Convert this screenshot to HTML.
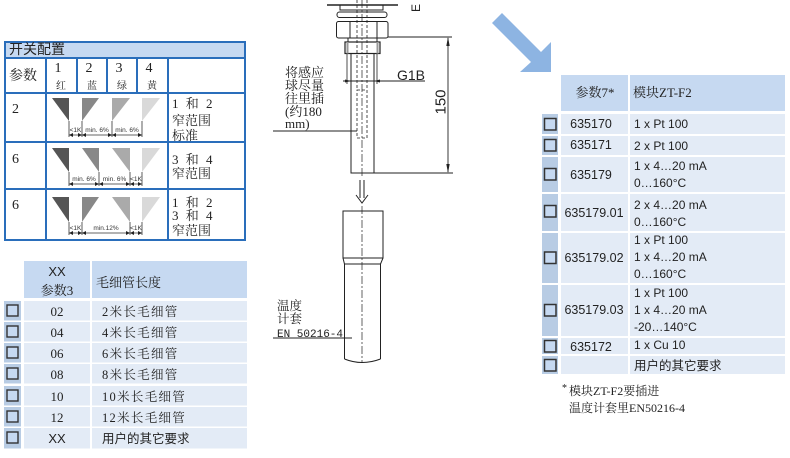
<!DOCTYPE html>
<html><head><meta charset="utf-8"><style>
html,body{margin:0;padding:0;background:#fff;}
svg{display:block;}
.sf{font-family:"Liberation Serif","Noto Serif CJK SC",serif;}
.ss{font-family:"Liberation Sans","Noto Sans CJK SC",sans-serif;}
.mo{font-family:"Liberation Mono","Noto Sans CJK SC",monospace;}
</style></head><body>
<svg width="790" height="458" viewBox="0 0 790 458" xmlns="http://www.w3.org/2000/svg">
<rect width="790" height="458" fill="#fff"/>

<!-- ===== Table 1 ===== -->
<rect x="4" y="41" width="242" height="17" fill="#c6d9f1"/>
<g stroke="#2a6ebb" stroke-width="2" fill="none">
<rect x="5" y="42" width="240" height="198"/>
<line x1="5" y1="58" x2="245" y2="58"/>
<line x1="5" y1="93" x2="245" y2="93"/>
<line x1="5" y1="142" x2="245" y2="142"/>
<line x1="5" y1="189" x2="245" y2="189"/>
<line x1="46" y1="58" x2="46" y2="240"/>
<line x1="168" y1="58" x2="168" y2="240"/>
<line x1="77" y1="58" x2="77" y2="93"/>
<line x1="107" y1="58" x2="107" y2="93"/>
<line x1="137" y1="58" x2="137" y2="93"/>
</g>
<g fill="#222">
<text x="9" y="54" class="ss" font-size="14">开关配置</text>
<text x="9" y="80" class="sf" font-size="14">参数</text>
<g class="sf" font-size="14" text-anchor="middle">
<text x="58" y="72">1</text><text x="89" y="72">2</text><text x="119" y="72">3</text><text x="149" y="72">4</text>
</g>
<g class="sf" font-size="10" text-anchor="middle">
<text x="61" y="89">红</text><text x="92" y="89">蓝</text><text x="122" y="89">绿</text><text x="152" y="89">黄</text>
</g>
<g class="sf" font-size="14">
<text x="12" y="113">2</text>
<text x="12" y="163">6</text>
<text x="12" y="209">6</text>
</g>
<g class="sf" font-size="13">
<text x="172" y="108" letter-spacing="2">1 和 2</text>
<text x="172" y="125">窄范围</text>
<text x="172" y="140">标准</text>
<text x="172" y="164" letter-spacing="2">3 和 4</text>
<text x="172" y="178">窄范围</text>
<text x="172" y="207" letter-spacing="2">1 和 2</text>
<text x="172" y="220" letter-spacing="2">3 和 4</text>
<text x="172" y="235">窄范围</text>
</g>
</g>

<!-- triangles row1 -->
<polygon points="52,98 69,98 69,121" fill="#555"/>
<polygon points="82,98 99,98 82,121" fill="#888"/>
<polygon points="112,98 130,98 112,121" fill="#aaa"/>
<polygon points="142,98 160,98 142,121" fill="#d9d9d9"/>
<!-- row2 -->
<polygon points="52,148 69,148 69,172" fill="#555"/>
<polygon points="82,148 99,148 99,172" fill="#888"/>
<polygon points="112,148 130,148 130,172" fill="#aaa"/>
<polygon points="142,148 160,148 142,172" fill="#d9d9d9"/>
<!-- row3 -->
<polygon points="52,197 69,197 69,222" fill="#555"/>
<polygon points="82,197 99,197 82,222" fill="#888"/>
<polygon points="112,197 130,197 130,222" fill="#aaa"/>
<polygon points="142,197 160,197 142,222" fill="#d9d9d9"/>

<g stroke="#333" stroke-width="0.8">
<line x1="69" y1="121" x2="69" y2="137"/><line x1="82" y1="121" x2="82" y2="137"/><line x1="112" y1="121" x2="112" y2="137"/><line x1="142" y1="121" x2="142" y2="137"/>
<line x1="69" y1="135" x2="142" y2="135"/>
<line x1="69" y1="172" x2="69" y2="186"/><line x1="99" y1="172" x2="99" y2="186"/><line x1="130" y1="172" x2="130" y2="186"/><line x1="142" y1="172" x2="142" y2="186"/>
<line x1="69" y1="184" x2="142" y2="184"/>
<line x1="69" y1="222" x2="69" y2="235"/><line x1="82" y1="222" x2="82" y2="235"/><line x1="130" y1="222" x2="130" y2="235"/><line x1="142" y1="222" x2="142" y2="235"/>
<line x1="69" y1="233" x2="142" y2="233"/>
</g>
<g fill="#222">
<polygon points="69,135 73,133 73,137"/><polygon points="82,135 78,133 78,137"/>
<polygon points="82,135 86,133 86,137"/><polygon points="112,135 108,133 108,137"/>
<polygon points="112,135 116,133 116,137"/><polygon points="142,135 138,133 138,137"/>
<polygon points="69,184 73,182 73,186"/><polygon points="99,184 95,182 95,186"/>
<polygon points="99,184 103,182 103,186"/><polygon points="130,184 126,182 126,186"/>
<polygon points="130,184 134,182 134,186"/><polygon points="142,184 138,182 138,186"/>
<polygon points="69,233 73,231 73,235"/><polygon points="82,233 78,231 78,235"/>
<polygon points="82,233 86,231 86,235"/><polygon points="130,233 126,231 126,235"/>
<polygon points="130,233 134,231 134,235"/><polygon points="142,233 138,231 138,235"/>
</g>
<g class="ss" font-size="6.5" fill="#333" text-anchor="middle">
<text x="75.5" y="132">&lt;1K</text><text x="97" y="132">min. 6%</text><text x="127" y="132">min. 6%</text>
<text x="84" y="181">min. 6%</text><text x="114.5" y="181">min. 6%</text><text x="136" y="181">&lt;1K</text>
<text x="75.5" y="230">&lt;1K</text><text x="106" y="230">min.12%</text><text x="136" y="230">&lt;1K</text>
</g>

<!-- ===== Table 2 ===== -->
<rect x="24" y="261" width="66" height="37" fill="#c6d9f1"/>
<rect x="92" y="261" width="155" height="37" fill="#c6d9f1"/>
<g fill="#222">
<text x="57" y="276" class="ss" font-size="13" text-anchor="middle">XX</text>
<text x="57" y="295" class="sf" font-size="13" text-anchor="middle">参数3</text>
<text x="96" y="287" class="sf" font-size="13">毛细管长度</text>
</g>
<g>
<rect x="4" y="301" width="17" height="19.5" fill="#b8cce4"/><rect x="24" y="301" width="66" height="19.5" fill="#e3ebf6"/><rect x="92" y="301" width="155" height="19.5" fill="#e3ebf6"/>
<rect x="4" y="322" width="17" height="19.5" fill="#b8cce4"/><rect x="24" y="322" width="66" height="19.5" fill="#e3ebf6"/><rect x="92" y="322" width="155" height="19.5" fill="#e3ebf6"/>
<rect x="4" y="343" width="17" height="19.5" fill="#b8cce4"/><rect x="24" y="343" width="66" height="19.5" fill="#e3ebf6"/><rect x="92" y="343" width="155" height="19.5" fill="#e3ebf6"/>
<rect x="4" y="364" width="17" height="19.5" fill="#b8cce4"/><rect x="24" y="364" width="66" height="19.5" fill="#e3ebf6"/><rect x="92" y="364" width="155" height="19.5" fill="#e3ebf6"/>
<rect x="4" y="386" width="17" height="19.5" fill="#b8cce4"/><rect x="24" y="386" width="66" height="19.5" fill="#e3ebf6"/><rect x="92" y="386" width="155" height="19.5" fill="#e3ebf6"/>
<rect x="4" y="407" width="17" height="19.5" fill="#b8cce4"/><rect x="24" y="407" width="66" height="19.5" fill="#e3ebf6"/><rect x="92" y="407" width="155" height="19.5" fill="#e3ebf6"/>
<rect x="4" y="428" width="17" height="20.5" fill="#b8cce4"/><rect x="24" y="428" width="66" height="20.5" fill="#e3ebf6"/><rect x="92" y="428" width="155" height="20.5" fill="#e3ebf6"/>
</g>
<g fill="#c6d9f1" stroke="#333" stroke-width="1.4">
<rect x="7" y="305" width="11" height="11"/>
<rect x="7" y="326" width="11" height="11"/>
<rect x="7" y="347" width="11" height="11"/>
<rect x="7" y="368" width="11" height="11"/>
<rect x="7" y="390" width="11" height="11"/>
<rect x="7" y="411" width="11" height="11"/>
<rect x="7" y="432" width="11" height="11"/>
</g>
<g fill="#222" font-size="13">
<g class="sf" text-anchor="middle">
<text x="57" y="316">02</text><text x="57" y="337">04</text><text x="57" y="358">06</text><text x="57" y="379">08</text><text x="57" y="401">10</text><text x="57" y="422">12</text>
</g>
<text x="57" y="443" class="ss" text-anchor="middle">XX</text>
<g class="sf" font-size="12.5" letter-spacing="1.3">
<text x="102" y="316">2米长毛细管</text>
<text x="102" y="337">4米长毛细管</text>
<text x="102" y="358">6米长毛细管</text>
<text x="102" y="379">8米长毛细管</text>
<text x="102" y="401">10米长毛细管</text>
<text x="102" y="422">12米长毛细管</text>
</g>
<text x="102" y="443" class="ss" font-size="12.5">用户的其它要求</text>
</g>

<!-- ===== Drawing (upper) ===== -->
<g stroke="#222" fill="none" stroke-width="1">
<line x1="327" y1="5" x2="398" y2="5" stroke-width="1.6"/>
<polyline points="340,5 340,10 383,10 383,5"/>
<rect x="337" y="12" width="50" height="5.5" rx="2.5"/>
<rect x="336.5" y="21.5" width="51.5" height="16.5" rx="2"/>
<line x1="350" y1="21.5" x2="350" y2="38"/>
<line x1="377" y1="21.5" x2="377" y2="38"/>
<rect x="348" y="38" width="29" height="4"/>
<rect x="345" y="42" width="35" height="11.5" stroke-width="1.2"/>
<line x1="347.5" y1="42" x2="347.5" y2="53.5" stroke="#999" stroke-width="2"/>
<line x1="377.5" y1="42" x2="377.5" y2="53.5" stroke="#999" stroke-width="2"/>
<polyline points="351,53.5 351,173 374,173 374,53.5"/>
<line x1="347" y1="54" x2="347" y2="84" stroke-width="0.8"/>
<line x1="377" y1="54" x2="377" y2="84" stroke-width="0.8"/>
<line x1="343" y1="81" x2="425" y2="81" stroke-width="0.9"/>
<line x1="357" y1="0" x2="357" y2="90" stroke-dasharray="3,2" stroke-width="0.8"/>
<line x1="367" y1="0" x2="367" y2="90" stroke-dasharray="3,2" stroke-width="0.8"/>
<rect x="357" y="90" width="10" height="48" stroke-dasharray="3,2" stroke-width="0.8"/>
<line x1="362" y1="0" x2="362" y2="178" stroke-dasharray="8,2,2,2" stroke-width="0.7"/>
<line x1="388" y1="37" x2="452" y2="37" stroke-width="0.9"/>
<line x1="374" y1="173" x2="453" y2="173" stroke-width="0.9"/>
<line x1="448" y1="38" x2="448" y2="172" stroke-width="0.9"/>
<line x1="273" y1="131" x2="357" y2="131" stroke-width="0.9"/>
</g>
<g fill="#222">
<polygon points="351,81 345,79.5 345,82.5"/>
<polygon points="374,81 380,79.5 380,82.5"/>
<polygon points="448,37 446.3,46 449.7,46"/>
<polygon points="448,173 446.3,164 449.7,164"/>
</g>
<text x="420" y="12" transform="rotate(-90 420 12)" class="ss" font-size="12" fill="#222">E</text>
<text x="397" y="80" class="ss" font-size="14" fill="#222">G1B</text>
<text x="445.5" y="102" transform="rotate(-90 445.5 102)" class="ss" font-size="15" fill="#222" text-anchor="middle">150</text>
<g class="sf" font-size="13" fill="#222">
<text x="285" y="77">将感应</text>
<text x="285" y="90">球尽量</text>
<text x="285" y="103">往里插</text>
<text x="285" y="116">(约180</text>
<text x="285" y="128">mm)</text>
</g>

<!-- down arrow -->
<g stroke="#222" stroke-width="1" fill="none">
<line x1="360" y1="180" x2="360" y2="198"/>
<line x1="364" y1="180" x2="364" y2="198"/>
<polyline points="356,195 362,203 368,195"/>
</g>

<!-- ===== Thermowell (lower) ===== -->
<g stroke="#222" fill="none" stroke-width="1">
<rect x="343" y="211" width="40" height="47"/>
<line x1="343" y1="258" x2="344.5" y2="264"/>
<line x1="383" y1="258" x2="380.5" y2="264"/>
<line x1="344.5" y1="264" x2="380.5" y2="264"/>
<line x1="344.5" y1="264" x2="344.5" y2="359"/>
<line x1="380.5" y1="264" x2="380.5" y2="359"/>
<path d="M344.5 359 Q362 366 380.5 359"/>
<line x1="362" y1="206" x2="362" y2="362" stroke-dasharray="8,2,2,2" stroke-width="0.7"/>
<line x1="273" y1="338" x2="352" y2="338" stroke-width="0.9"/>
</g>
<g fill="#222">
<text x="277" y="310" class="sf" font-size="12.5">温度</text>
<text x="277" y="323" class="sf" font-size="12.5">计套</text>
<text x="277" y="337" class="mo" font-size="11">EN 50216-4</text>
</g>

<!-- ===== Blue arrow ===== -->
<polygon points="502,13 541,52 551,42 551,72 520,72 531,62 492,23" fill="#8db4e2"/>

<!-- ===== Right table ===== -->
<rect x="561" y="75" width="67" height="36" fill="#c6d9f1"/>
<rect x="630" y="75" width="155" height="36" fill="#c6d9f1"/>
<g fill="#222" class="sf" font-size="13">
<text x="595" y="97" text-anchor="middle">参数7*</text>
<text x="633" y="97">模块ZT-F2</text>
</g>
<g>
<rect x="542" y="114" width="16" height="20" fill="#b8cce4"/><rect x="561" y="114" width="67" height="20" fill="#e3ebf6"/><rect x="630" y="114" width="155" height="20" fill="#e3ebf6"/>
<rect x="542" y="136" width="16" height="19" fill="#b8cce4"/><rect x="561" y="136" width="67" height="19" fill="#e3ebf6"/><rect x="630" y="136" width="155" height="19" fill="#e3ebf6"/>
<rect x="542" y="157" width="16" height="35" fill="#b8cce4"/><rect x="561" y="157" width="67" height="35" fill="#e3ebf6"/><rect x="630" y="157" width="155" height="35" fill="#e3ebf6"/>
<rect x="542" y="194" width="16" height="37" fill="#b8cce4"/><rect x="561" y="194" width="67" height="37" fill="#e3ebf6"/><rect x="630" y="194" width="155" height="37" fill="#e3ebf6"/>
<rect x="542" y="233" width="16" height="50" fill="#b8cce4"/><rect x="561" y="233" width="67" height="50" fill="#e3ebf6"/><rect x="630" y="233" width="155" height="50" fill="#e3ebf6"/>
<rect x="542" y="285" width="16" height="51" fill="#b8cce4"/><rect x="561" y="285" width="67" height="51" fill="#e3ebf6"/><rect x="630" y="285" width="155" height="51" fill="#e3ebf6"/>
<rect x="542" y="338" width="16" height="16" fill="#b8cce4"/><rect x="561" y="338" width="67" height="16" fill="#e3ebf6"/><rect x="630" y="338" width="155" height="16" fill="#e3ebf6"/>
<rect x="542" y="356" width="16" height="18" fill="#b8cce4"/><rect x="561" y="356" width="67" height="18" fill="#e3ebf6"/><rect x="630" y="356" width="155" height="18" fill="#e3ebf6"/>
</g>
<g fill="#c6d9f1" stroke="#333" stroke-width="1.5">
<rect x="544.5" y="118.5" width="11.5" height="11.5"/>
<rect x="544.5" y="139.5" width="11.5" height="11.5"/>
<rect x="544.5" y="168.5" width="11.5" height="11.5"/>
<rect x="544.5" y="205.5" width="11.5" height="11.5"/>
<rect x="544.5" y="252" width="11.5" height="11.5"/>
<rect x="544.5" y="304.5" width="11.5" height="11.5"/>
<rect x="544.5" y="340.5" width="11.5" height="11.5"/>
<rect x="544.5" y="359.5" width="11.5" height="11.5"/>
</g>
<g fill="#222" class="ss" font-size="12.5" text-anchor="middle">
<text x="591" y="128">635170</text>
<text x="591" y="149">635171</text>
<text x="591" y="179">635179</text>
<text x="594" y="217">635179.01</text>
<text x="594" y="262">635179.02</text>
<text x="594" y="314">635179.03</text>
<text x="591" y="351">635172</text>
</g>
<g fill="#222" class="ss" font-size="12">
<text x="634" y="128">1 x Pt 100</text>
<text x="634" y="150">2 x Pt 100</text>
<text x="634" y="170">1 x 4…20 mA</text>
<text x="634" y="187">0…160°C</text>
<text x="634" y="209">2 x 4…20 mA</text>
<text x="634" y="226">0…160°C</text>
<text x="634" y="244">1 x Pt 100</text>
<text x="634" y="261">1 x 4…20 mA</text>
<text x="634" y="278">0…160°C</text>
<text x="634" y="297">1 x Pt 100</text>
<text x="634" y="314">1 x 4…20 mA</text>
<text x="634" y="331">-20…140°C</text>
<text x="634" y="349">1 x Cu 10</text>
</g>
<text x="634" y="370" class="ss" font-size="12.5" fill="#222">用户的其它要求</text>
<g fill="#222" class="sf" font-size="12">
<text x="562" y="391" font-size="10">*</text>
<text x="569" y="395">模块ZT-F2要插进</text>
<text x="569" y="412">温度计套里EN50216-4</text>
</g>
</svg>
</body></html>
